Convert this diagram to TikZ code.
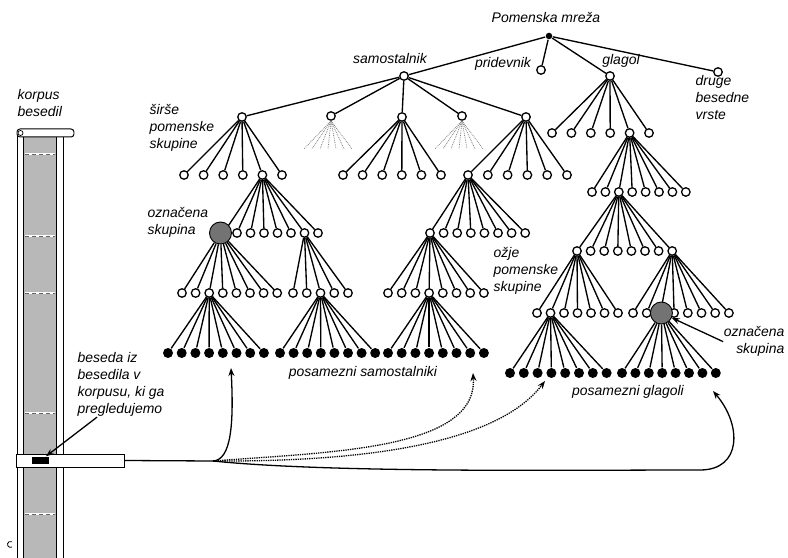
\documentclass[tikz,border=0pt]{standalone}
\usepackage{fontspec}
\setmainfont{Liberation Sans}
\usetikzlibrary{arrows.meta,positioning}

\tikzset{
  leaf/.style={circle,draw,fill=white,line width=1.3pt,inner sep=0pt,minimum size=8.5bp},
  word/.style={circle,fill=black,inner sep=0pt,minimum size=10bp},
  marked/.style={circle,draw,line width=0.9pt,fill=black!55,inner sep=0pt,minimum size=22bp},
  top/.style={circle,fill=black,inner sep=0pt,minimum size=6.5bp},
  lbl/.style={font=\fontsize{14}{17}\selectfont\itshape,align=left,inner sep=0pt},
  hint/.style={densely dotted,black!50,line width=0.8pt},
  link/.style={-{Stealth[length=8bp,width=6bp]},line width=1.3pt},
  trace/.style={link,densely dotted}
}

% parent, prefix, style, x0, dx, n, y
\newcommand\fan[7]{%
  \foreach \i in {1,...,#6}{
    \node[#3] (#2\i) at ({#4+(\i-1)*#5},#7) {};
    \draw (#1) -- (#2\i);
  }}

\begin{document}
\begin{tikzpicture}[x=1bp,y=-1bp,line width=1.35pt]
\useasboundingbox (0,0) rectangle (788,558);

% korpus
\fill[black!28] (23,137) rectangle (56,558);
\draw[line width=1pt] (17,133) -- (17,558) (23,137) -- (23,558)
  (56,137) -- (56,558) (63,137) -- (63,558);
\draw[line width=1pt,fill=white,rounded corners=3bp] (17,129) rectangle (74,137);
\draw[line width=0.7pt] (20.5,133) circle (2.5);
\foreach \y in {154,236,293,413,514}{
  \draw[white,line width=2.5pt] (25,\y) -- (55,\y);
  \draw[black!60,line width=1pt,dash pattern=on 4bp off 3bp] (25,\y) -- (55,\y);
}
\draw[line width=0.8pt] (12,547) arc (60:300:3);
\node[draw,fill=white,line width=1pt,minimum width=108bp,minimum height=13bp,inner sep=0pt] (bar) at (70,460.5) {};
\node[fill=black,minimum width=17bp,minimum height=7bp,inner sep=0pt] (cur) at (40.5,460.5) {};

% mreza
\node[top] (root) at (549,36) {};
\node[leaf] (noun) at (404,76) {};
\node[leaf] (adj) at (541,70) {};
\node[leaf] (verb) at (610,76) {};
\node[leaf] (other) at (718,72) {};
\foreach \n in {noun,adj,verb,other} \draw (root) -- (\n);

\node[leaf] (n1) at (242,117) {};
\node[leaf] (n2) at (331,116) {};
\node[leaf] (n3) at (402,117) {};
\node[leaf] (n4) at (462,116) {};
\node[leaf] (n5) at (526,117) {};
\foreach \n in {1,...,5} \draw (noun) -- (n\n);
\foreach \p in {n2,n4}
  \foreach \o in {-27,-19,-11,-3,5,13,21}
    \draw[hint] (\p.south) -- ++(\o,28);

\fan{n1}{a}{leaf}{184}{19.6}{6}{175}
\fan{n3}{b}{leaf}{343}{19.6}{6}{175}
\fan{n5}{c}{leaf}{468}{19.8}{6}{175}
\fan{verb}{g}{leaf}{552}{19.4}{6}{133}

\fan{a5}{d}{leaf}{223.5}{13.5}{8}{233}
\node[marked] (osk1) at ([xshift=-3bp]d1) {};
\fan{osk1}{e}{leaf}{182}{13.6}{8}{293}
\fan{d7}{f}{leaf}{293}{13.75}{5}{293}
\fan{e3}{wa}{word}{168}{13.7}{8}{353}
\fan{f3}{wb}{word}{280}{13.6}{8}{353}

\fan{c1}{h}{leaf}{430}{13.6}{8}{233}
\fan{h1}{i}{leaf}{388}{13.7}{8}{293}
\fan{i4}{wc}{word}{388}{13.7}{8}{353}

\fan{g5}{j}{leaf}{592}{13.4}{8}{192}
\fan{j3}{k}{leaf}{577}{13.6}{8}{251}
\fan{k1}{l}{leaf}{537}{13.5}{7}{313}
\fan{k8}{m}{leaf}{633}{13.7}{8}{313}
\node[marked] (osk2) at ([xshift=1bp]m3) {};
\fan{l2}{wd}{word}{510}{13.8}{8}{373}
\fan{osk2}{we}{word}{622}{13.4}{8}{373}

% napisi
\node[lbl] (title) at (546,17) {Pomenska mreža};
\node[lbl] (nounlbl) at (390,59) {samostalnik};
\node[lbl] (adjlbl) at (503,64) {pridevnik};
\node[lbl] (verblbl) at (621,61) {glagol};
\node[lbl,anchor=north west] (otherlbl) at (695,75) {druge\\besedne\\vrste};
\node[lbl,anchor=north west] (broadlbl) at (149,104) {širše\\pomenske\\skupine};
\node[lbl,anchor=north west] (osk1lbl) at (147,207) {označena\\skupina};
\node[lbl,anchor=north west] (narrowlbl) at (493,247) {ožje\\pomenske\\skupine};
\node[lbl,anchor=north east,align=right] (osk2lbl) at (785,326) {označena\\skupina};
\node[lbl,anchor=north west] (korpuslbl) at (17,89) {korpus\\besedil};
\node[lbl,anchor=north west] (wordlbl) at (77,352) {beseda iz\\besedila v\\korpusu, ki ga\\pregledujemo};
\node[lbl] (nounslbl) at (363,373) {posamezni samostalniki};
\node[lbl] (verbslbl) at (628,392) {posamezni glagoli};

% povezave
\coordinate (jn) at (213,461);
\coordinate (t1) at (231,368);
\coordinate (t2) at (473,373);
\coordinate (t3) at (545,381);
\coordinate (t4) at (713,391);
\draw[link] ([xshift=20bp]wordlbl.south west) -- (cur);
\draw[link] (osk2lbl.west) -- (osk2);
\draw[link] (bar.east) -- (jn) .. controls (231,460) and (234,425) .. (t1);
\draw[link] (jn) .. controls (330,473) and (560,470) .. (700,470)
  .. controls (742,470) and (742,425) .. (t4);
\draw[trace] (jn) .. controls (330,452) and (478,450) .. (t2);
\draw[trace] (jn) .. controls (380,462) and (500,440) .. (t3);
\end{tikzpicture}
\end{document}
